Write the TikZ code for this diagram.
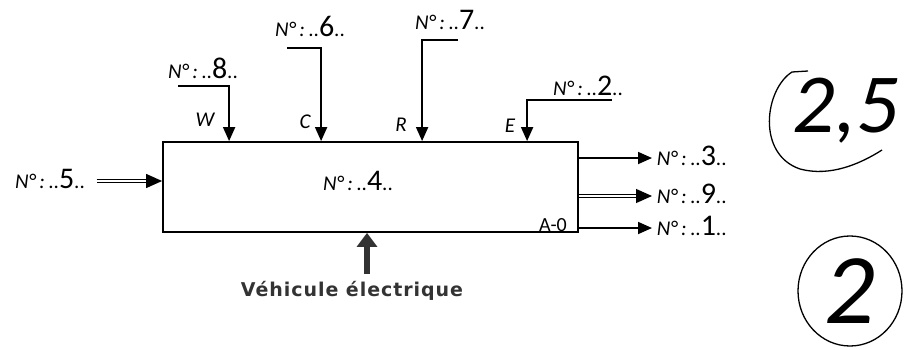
\documentclass[tikz,border=0pt]{standalone}
\usepackage{fontspec}
\setmainfont{Carlito}
\newfontfamily\vefont[LetterSpace=5]{DejaVu Sans}
\usetikzlibrary{arrows.meta}

\newcommand{\numero}[1]{\textit{N°\,:\,}..{\fontsize{30}{30}\selectfont #1}..}

\begin{document}
\begin{tikzpicture}[x=1pt, y=1pt, line width=1.8pt,
  fleche/.style={-{Triangle[length=14pt,width=12pt]}},
  fleche double/.style={double, double distance=2.2pt, line width=1.2pt,
    -{Triangle[length=16pt,width=14pt]}},
  meca/.style={line width=6pt, -{Triangle[length=14pt,width=20pt]}},
  lab/.style={font=\fontsize{21}{21}\selectfont, inner sep=1pt},
  lettre/.style={font=\fontsize{21}{21}\selectfont\itshape, inner sep=1pt}]
  \useasboundingbox (0,0) rectangle (920,349);

  % boite A-0
  \node[draw, minimum width=415, minimum height=90, inner sep=0] (box) at (370.5,162) {};
  \node[lab] (n4) at (358,168) {\numero{4}};
  \node[font=\fontsize{20}{20}\selectfont] (a0) at (553,124) {A-0};

  % entree
  \node[lab] (n5) at (50,170) {\numero{5}};
  \draw[fleche double] ([xshift=10pt,yshift=-2pt]n5.east) -- (box.west |- {0,168});

  % controles
  \node[lab] (n8) at (203,281) {\numero{8}};
  \coordinate (w0) at (178,263);
  \draw[fleche] (w0) -| ([xshift=67]box.north west);
  \node[lettre] (lw) at (205,229) {W};

  \node[lab] (n6) at (310,323) {\numero{6}};
  \coordinate (c0) at (287,301);
  \draw[fleche] (c0) -| ([xshift=159]box.north west);
  \node[lettre] (lc) at (305,227) {C};

  \node[lab] (n7) at (450,329) {\numero{7}};
  \coordinate (r0) at (458,309);
  \draw[fleche] (r0) -| ([xshift=260]box.north west);
  \node[lettre] (lr) at (401,224) {R};

  \node[lab] (n2) at (588,263) {\numero{2}};
  \coordinate (e0) at (612,249);
  \draw[fleche] (e0) -| ([xshift=365]box.north west);
  \node[lettre] (le) at (510,223) {E};

  % sorties
  \node[lab, anchor=west] (n3) at (655,193) {\numero{3}};
  \node[lab, anchor=west] (n9) at (655,155) {\numero{9}};
  \node[lab, anchor=west] (n1) at (655,123) {\numero{1}};
  \draw[fleche] (box.east |- {0,191}) -- (652,191);
  \draw[fleche double] (box.east |- {0,153}) -- (652,153);
  \draw[fleche] (box.east |- {0,121}) -- (652,121);

  % support
  \node[font=\vefont\bfseries\fontsize{19}{19}\selectfont, text=black!80] (ve) at (352,58) {Véhicule électrique};
  \draw[meca, black!80] ([xshift=15pt,yshift=3pt]ve.north) -- ([xshift=15pt]ve.north |- box.south);

  % notes
  \node[font=\fontsize{84}{84}\selectfont\itshape] (note) at (846,238) {2,5};
  \draw[line width=1.3pt] (808,278) -- (792,277) .. controls (765,260) and (756,195) .. (800,180)
    .. controls (830,172) and (860,185) .. (882,199);
  \node[font=\fontsize{100}{100}\selectfont\itshape] (note2) at (850,58) {2};
  \draw[line width=1.3pt] (note2.center) ellipse [x radius=52, y radius=55];
\end{tikzpicture}
\end{document}
